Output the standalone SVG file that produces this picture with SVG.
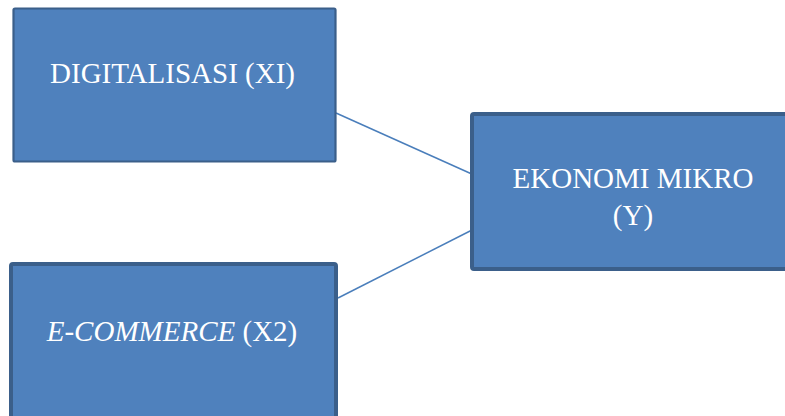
<svg xmlns="http://www.w3.org/2000/svg" width="785" height="416" viewBox="0 0 785 416">
<style>
.box{fill:#4f81bd;stroke:#3b5f8a}
.t{font-family:"Liberation Serif","Times New Roman",serif;font-size:29px;fill:#ffffff;text-anchor:middle}
.c{stroke:#4a7ebb;stroke-width:1.5;fill:none}
</style>
<rect width="785" height="416" fill="#ffffff"/>
<g id="connectors">
<line class="c" x1="336" y1="113" x2="474" y2="175"/>
<line class="c" x1="338" y1="298" x2="474" y2="229"/>
</g>
<g id="digitalisasi">
<rect class="box" x="13.5" y="8.5" width="322" height="153" rx="1.5" stroke-width="2.2"/>
<text class="t" x="172.5" y="83">DIGITALISASI (XI)</text>
</g>
<g id="ekonomi">
<rect class="box" x="472" y="114" width="330" height="155" rx="2" stroke-width="4"/>
<text class="t" x="633" y="188">EKONOMI MIKRO</text>
<text class="t" x="633" y="225">(Y)</text>
</g>
<g id="ecommerce">
<rect class="box" x="11" y="264" width="325" height="170" rx="2" stroke-width="4"/>
<text class="t" x="172" y="341"><tspan font-style="italic">E-COMMERCE</tspan> (X2)</text>
</g>
</svg>
